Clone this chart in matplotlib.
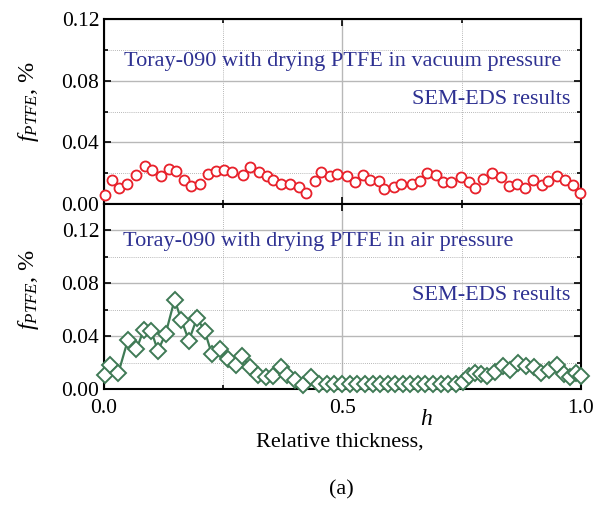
import matplotlib
matplotlib.use("Agg")
import matplotlib.pyplot as plt
from matplotlib.ticker import MultipleLocator

plt.rcParams["font.family"] = ["Liberation Serif", "DejaVu Serif"]
plt.rcParams["mathtext.fontset"] = "custom"
plt.rcParams["mathtext.rm"] = "Liberation Serif"
plt.rcParams["mathtext.it"] = "Liberation Serif:italic"

# vacuum drying (top panel), SEM-EDS
vac_h = [0.002, 0.016, 0.032, 0.049, 0.067, 0.086, 0.101, 0.119, 0.136, 0.152,
         0.168, 0.182, 0.201, 0.219, 0.234, 0.252, 0.268, 0.291, 0.307, 0.324,
         0.341, 0.354, 0.371, 0.390, 0.409, 0.423, 0.442, 0.456, 0.474, 0.489,
         0.509, 0.526, 0.542, 0.558, 0.576, 0.588, 0.607, 0.623, 0.645, 0.662,
         0.678, 0.697, 0.711, 0.727, 0.748, 0.766, 0.778, 0.795, 0.814, 0.832,
         0.850, 0.865, 0.883, 0.900, 0.918, 0.930, 0.950, 0.966, 0.983, 0.997]
vac_f = [0.0061, 0.0158, 0.0104, 0.0132, 0.0186, 0.0249, 0.0223, 0.0179, 0.0229, 0.0212,
         0.0158, 0.0115, 0.0132, 0.0195, 0.0212, 0.0223, 0.0208, 0.0190, 0.0238, 0.0205,
         0.0179, 0.0153, 0.0130, 0.0132, 0.0110, 0.0071, 0.0151, 0.0208, 0.0184, 0.0195,
         0.0184, 0.0141, 0.0190, 0.0158, 0.0151, 0.0099, 0.0108, 0.0130, 0.0130, 0.0147,
         0.0201, 0.0190, 0.0141, 0.0141, 0.0173, 0.0141, 0.0104, 0.0162, 0.0201, 0.0173,
         0.0119, 0.0132, 0.0104, 0.0153, 0.0121, 0.0151, 0.0179, 0.0158, 0.0121, 0.0071]

# air drying (bottom panel), SEM-EDS
air_h = [0.003, 0.012, 0.030, 0.050, 0.068, 0.083, 0.099, 0.113, 0.129, 0.148,
         0.162, 0.178, 0.195, 0.211, 0.226, 0.243, 0.259, 0.276, 0.289, 0.306,
         0.322, 0.340, 0.354, 0.372, 0.384, 0.400, 0.418, 0.435, 0.450, 0.467,
         0.483, 0.500, 0.516, 0.531, 0.547, 0.563, 0.579, 0.595, 0.610, 0.626,
         0.642, 0.658, 0.674, 0.690, 0.706, 0.722, 0.738, 0.753, 0.765, 0.777,
         0.790, 0.804, 0.820, 0.836, 0.852, 0.869, 0.884, 0.902, 0.917, 0.934,
         0.949, 0.964, 0.977, 0.990, 1.000]
air_f = [0.0105, 0.0180, 0.0120, 0.0370, 0.0300, 0.0445, 0.0440, 0.0290, 0.0415, 0.0676,
         0.0524, 0.0367, 0.0537, 0.0440, 0.0266, 0.0306, 0.0224, 0.0182, 0.0250, 0.0165,
         0.0106, 0.0094, 0.0100, 0.0165, 0.0105, 0.0068, 0.0030, 0.0090, 0.0040, 0.0035,
         0.0035, 0.0040, 0.0035, 0.0040, 0.0035, 0.0040, 0.0035, 0.0040, 0.0035, 0.0035,
         0.0040, 0.0040, 0.0035, 0.0035, 0.0035, 0.0035, 0.0040, 0.0055, 0.0100, 0.0120,
         0.0110, 0.0100, 0.0130, 0.0175, 0.0144, 0.0200, 0.0175, 0.0170, 0.0119, 0.0142,
         0.0185, 0.0115, 0.0094, 0.0120, 0.0100]

TEXT_BLUE = "#2e3192"
RED = "#e8202a"
GREEN = "#3f7a55"


def style_axes(ax, ymax):
    ax.set_xlim(0, 1)
    ax.set_ylim(0, ymax)
    ax.xaxis.set_major_locator(MultipleLocator(0.5))
    ax.xaxis.set_minor_locator(MultipleLocator(0.25))
    ax.yaxis.set_major_locator(MultipleLocator(0.04))
    ax.yaxis.set_minor_locator(MultipleLocator(0.02))
    ax.grid(which="major", color="#b8b8b8", linewidth=1.0, linestyle="-")
    ax.grid(which="minor", color="#a0a0a0", linewidth=0.6, linestyle=(0, (1, 1.5)))
    ax.set_axisbelow(True)
    ax.tick_params(which="both", direction="in", top=True, right=True,
                   labelsize=15.5, width=1.2)
    ax.tick_params(which="major", length=5)
    ax.tick_params(which="minor", length=3)
    ax.tick_params(axis="x", pad=7)
    for s in ax.spines.values():
        s.set_linewidth(1.5)
    ax.set_yticks([0.0, 0.04, 0.08, 0.12])
    ax.yaxis.set_major_formatter(plt.FormatStrFormatter("%.2f"))


fig = plt.figure(figsize=(6.06, 5.07), dpi=100)
ax1 = fig.add_axes([0.1716, 0.5976, 0.7871, 0.3649])
ax2 = fig.add_axes([0.1716, 0.2327, 0.7871, 0.3649])

ax1.plot(vac_h, vac_f, linestyle="none", marker="o", markersize=7.2,
         markerfacecolor="white", markeredgecolor=RED, markeredgewidth=1.3,
         clip_on=False, zorder=3)
style_axes(ax1, 0.12)
ax1.tick_params(labelbottom=False)
ax1.text(0.5, 0.0925, "Toray-090 with drying PTFE in vacuum pressure",
         ha="center", va="center", fontsize=16, color=TEXT_BLUE)
ax1.text(0.977, 0.0675, "SEM-EDS results", ha="right", va="center",
         fontsize=16, color=TEXT_BLUE)

ax2.plot(air_h, air_f, linestyle="-", color=GREEN, linewidth=1.6,
         marker="D", markersize=8, markerfacecolor="white",
         markeredgecolor=GREEN, markeredgewidth=1.4, clip_on=False, zorder=3)
style_axes(ax2, 0.14)
ax2.set_xticks([0.0, 0.5, 1.0])
ax2.xaxis.set_major_formatter(plt.FormatStrFormatter("%.1f"))
ax2.text(0.04, 0.112, "Toray-090 with drying PTFE in air pressure",
         ha="left", va="center", fontsize=16, color=TEXT_BLUE)
ax2.text(0.977, 0.0705, "SEM-EDS results", ha="right", va="center",
         fontsize=16, color=TEXT_BLUE)

ylab = r"$f_{PTFE}$, %"
fig.text(0.047, 0.80, ylab, rotation=90, ha="center", va="center", fontsize=17.5)
fig.text(0.047, 0.43, ylab, rotation=90, ha="center", va="center", fontsize=17.5)

fig.text(0.561, 0.129, "Relative thickness,", ha="center", va="center", fontsize=16)
fig.text(0.703, 0.173, "h", ha="center", va="center", fontsize=17, style="italic")
fig.text(0.564, 0.034, "(a)", ha="center", va="center", fontsize=16)

fig.savefig("out.png", dpi=100)
